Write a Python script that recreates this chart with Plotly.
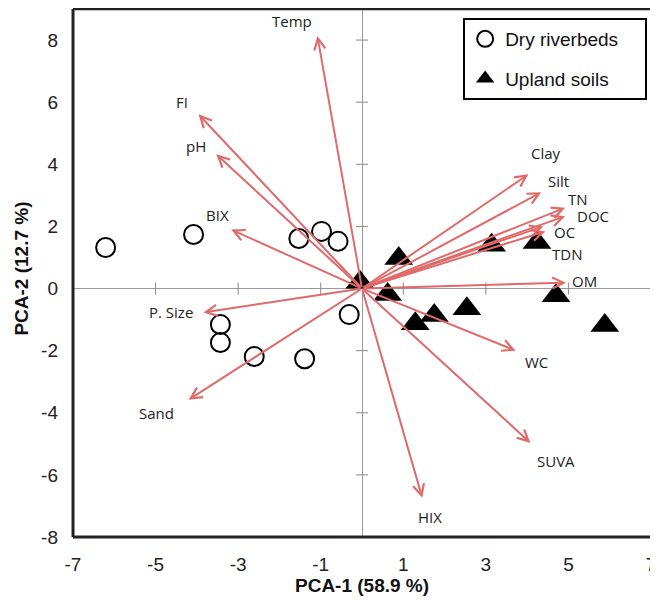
import plotly.graph_objects as go

# ---- data ----
dry_x = [-6.21, -4.08, -1.53, -0.98, -0.58, -3.43, -3.43, -2.61, -1.39, -0.31]
dry_y = [1.32, 1.74, 1.61, 1.84, 1.52, -1.16, -1.74, -2.19, -2.26, -0.84]

up_x = [-0.05, 0.89, 0.62, 1.29, 1.75, 2.54, 3.14, 4.24, 4.70, 5.88]
up_y = [0.20, 0.97, -0.19, -1.13, -0.87, -0.65, 1.39, 1.48, -0.23, -1.19]

var_names = ["Temp", "FI", "pH", "BIX", "P. Size", "Sand", "Clay", "Silt", "TN",
             "DOC", "OC", "TDN", "OM", "WC", "SUVA", "HIX"]
load_x = [-1.08, -3.96, -3.53, -3.17, -3.84, -4.20, 4.03, 4.34, 4.92,
          4.92, 4.39, 4.44, 4.94, 3.72, 4.08, 1.46]
load_y = [8.13, 5.61, 4.32, 1.90, -0.77, -3.58, 3.68, 3.10, 2.60,
          2.33, 2.00, 1.84, 0.19, -2.00, -4.97, -6.74]

# label offsets from arrow tips (pixels)
lab_dx = [-25, -17, -20, -14, -8, -32, 18, 17, 13, 28, 21, 22, 19, 21, 26, 8]
lab_dy = [15, 12, 8, 15, 0, -13, 21, 11, 9, 0, -6, -23, 2, -11, -18, -19]
lab_anchor = ["center"] * 4 + ["right"] + ["center"] * 11

x_ticks = [-7, -5, -3, -1, 1, 3, 5, 7]
y_ticks = [-8, -6, -4, -2, 0, 2, 4, 6, 8]

arrow_color = "#E06A6A"

fig = go.Figure()

fig.add_trace(go.Scatter(
    x=dry_x, y=dry_y, mode="markers", name="Dry riverbeds&nbsp;&nbsp;&nbsp;&nbsp;",
    legendgroup="a",
    marker=dict(symbol="circle-open", size=19, color="black", line=dict(width=2, color="black")),
))
fig.add_trace(go.Scatter(
    x=up_x, y=up_y, mode="markers", name="Upland soils",
    legendgroup="b",
    marker=dict(symbol="triangle-up", size=25, color="black"),
))

annotations = []
for name, lx, ly, dx, dy, anc in zip(var_names, load_x, load_y, lab_dx, lab_dy, lab_anchor):
    annotations.append(dict(
        x=lx, y=ly, ax=0, ay=0, xref="x", yref="y", axref="x", ayref="y",
        showarrow=True, arrowhead=5, arrowsize=1.1, arrowwidth=2,
        arrowcolor=arrow_color, text="",
    ))
    annotations.append(dict(
        x=lx, y=ly, xref="x", yref="y", text=name, showarrow=False,
        xshift=dx, yshift=dy, xanchor=anc,
        font=dict(family="Open Sans, sans-serif", size=15, color="#222222"),
    ))

# axis titles
annotations.append(dict(
    x=0.5, y=-0.091, xref="paper", yref="paper", showarrow=False,
    text="<b>PCA-1 (58.9 %)</b>", xanchor="center", yanchor="middle",
    font=dict(size=19, color="#111111"),
))
annotations.append(dict(
    x=-0.0885, y=0.508, xref="paper", yref="paper", showarrow=False,
    text="<b>PCA-2 (12.7 %)</b>", xanchor="center", yanchor="middle", textangle=-90,
    font=dict(size=19, color="#111111"),
))

shapes = []
# tick marks crossing the zero lines
for t in y_ticks:
    if t == 0:
        continue
    shapes.append(dict(type="line", xref="x", yref="y", xsizemode="pixel", xanchor=0,
                       x0=-6, x1=6, y0=t, y1=t, line=dict(color="#888888", width=1)))
for t in x_ticks:
    if t in (-7, 7):
        continue
    shapes.append(dict(type="line", xref="x", yref="y", ysizemode="pixel", yanchor=0,
                       x0=t, x1=t, y0=-6, y1=6, line=dict(color="#888888", width=1)))
# frame
shapes += [
    dict(type="line", xref="paper", yref="paper", x0=0, x1=0, y0=0, y1=1,
         line=dict(color="#222222", width=3)),
    dict(type="line", xref="paper", yref="paper", x0=0, x1=1, y0=0, y1=0,
         line=dict(color="#222222", width=3)),
    dict(type="line", xref="paper", yref="paper", x0=0, x1=1, y0=1, y1=1,
         line=dict(color="#222222", width=2.5)),
    dict(type="line", xref="paper", yref="paper", x0=1, x1=1, y0=0, y1=1,
         line=dict(color="#999999", width=1.5)),
]

# page body has an 8px default margin: size the figure to the visible area
fig.update_layout(
    width=650, height=592,
    margin=dict(l=65, r=7, t=1, b=63, autoexpand=False),
    paper_bgcolor="white", plot_bgcolor="white",
    font=dict(family="Liberation Sans, Arial, sans-serif", color="#222222"),
    showlegend=True,
    legend=dict(
        x=0.675, y=0.983, xanchor="left", yanchor="top",
        bordercolor="black", borderwidth=2, bgcolor="white",
        font=dict(size=19, color="#111111"),
        tracegroupgap=12, itemsizing="trace",
    ),
    annotations=annotations,
    shapes=shapes,
    xaxis=dict(
        range=[-7, 7], tickvals=x_ticks, ticktext=[str(v) for v in x_ticks],
        showgrid=False, zeroline=True, zerolinecolor="#999999", zerolinewidth=1,
        showline=False, ticks="", ticklabelstandoff=14, automargin=False,
        ticklabeloverflow="allow",
        tickfont=dict(size=19),
    ),
    yaxis=dict(
        range=[-8, 9], tickvals=y_ticks, ticktext=[str(v) for v in y_ticks],
        showgrid=False, zeroline=True, zerolinecolor="#999999", zerolinewidth=1,
        showline=False, ticks="", ticklabelstandoff=14, automargin=False,
        ticklabeloverflow="allow",
        tickfont=dict(size=19),
    ),
)

fig.write_html("out.html")
